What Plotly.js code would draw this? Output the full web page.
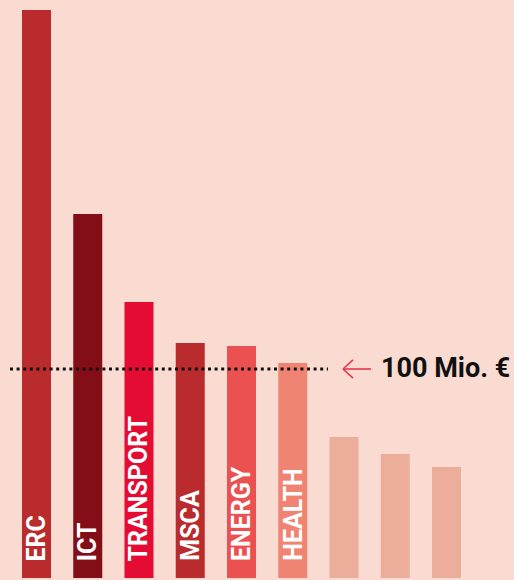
<!DOCTYPE html>
<html>
<head>
<meta charset="utf-8">
<script src="https://cdn.plot.ly/plotly-3.0.1.min.js"></script>
<style>html,body{margin:0;padding:0;background:#FADBD1;}#chart{width:514px;height:580px;}</style>
</head>
<body>
<div id="chart"></div>
<script>
var categories = ["ERC", "ICT", "TRANSPORT", "MSCA", "ENERGY", "HEALTH", "", " ", "  "];
var labels = ["ERC", "ICT", "TRANSPORT", "MSCA", "ENERGY", "HEALTH", "", "", ""];
var values = [271.8, 174.2, 132.1, 112.4, 111.0, 102.9, 67.5, 59.3, 53.1];
var barColors = ["#B92B2D", "#840E18", "#E40C32", "#B92B2D", "#EA5150", "#F08473", "#ECAE9B", "#ECAE9B", "#ECAE9B"];
var refValue = 100;
var refLabel = "100 Mio. €";

var W = 514, H = 580;
var xs = categories.map(function(_, i){ return i; });

var trace = {
  type: "bar",
  x: xs,
  y: values,
  width: 0.566,
  marker: {color: barColors, line: {width: 0}},
  hoverinfo: "skip"
};

var annotations = [];
labels.forEach(function(t, i){
  if (!t) return;
  annotations.push({
    x: xs[i], y: 0, xref: "x", yref: "y",
    text: t, showarrow: false, textangle: -90,
    xanchor: "center", yanchor: "bottom", yshift: 15,
    font: {family: "Roboto, sans-serif", size: 25, color: "#FFFFFF", weight: 700}
  });
});
annotations.push({
  x: 379 / W, y: refValue, xref: "paper", yref: "y",
  text: "<b>" + refLabel + "</b>", showarrow: false,
  xanchor: "left", yanchor: "middle", yshift: 1,
  font: {family: "Roboto, sans-serif", size: 27, color: "#111111"}
});

var arrowColor = "#E8354F";
var shapes = [
  {type: "line", xref: "paper", yref: "y", x0: 10 / W, x1: 328 / W, y0: refValue, y1: refValue,
   line: {color: "#111111", width: 3, dash: "3px,3.6px"}},
  {type: "line", xref: "paper", yref: "y", x0: 343 / W, x1: 371 / W, y0: refValue, y1: refValue,
   line: {color: arrowColor, width: 1.6}},
  {type: "line", xref: "paper", yref: "y", x0: 343 / W, x1: 353 / W, y0: refValue, y1: refValue + 4.4,
   line: {color: arrowColor, width: 1.6}},
  {type: "line", xref: "paper", yref: "y", x0: 343 / W, x1: 353 / W, y0: refValue, y1: refValue - 4.4,
   line: {color: arrowColor, width: 1.6}}
];

var layout = {
  width: W, height: H,
  margin: {l: 0, r: 0, t: 0, b: 2, pad: 0},
  paper_bgcolor: "#FADBD1",
  plot_bgcolor: "#FADBD1",
  showlegend: false,
  xaxis: {range: [-0.712, 9.317], visible: false, fixedrange: true},
  yaxis: {range: [0, 276.56], visible: false, fixedrange: true},
  annotations: annotations,
  shapes: shapes
};

Plotly.newPlot("chart", [trace], layout, {displayModeBar: false, staticPlot: true});
</script>
</body>
</html>
